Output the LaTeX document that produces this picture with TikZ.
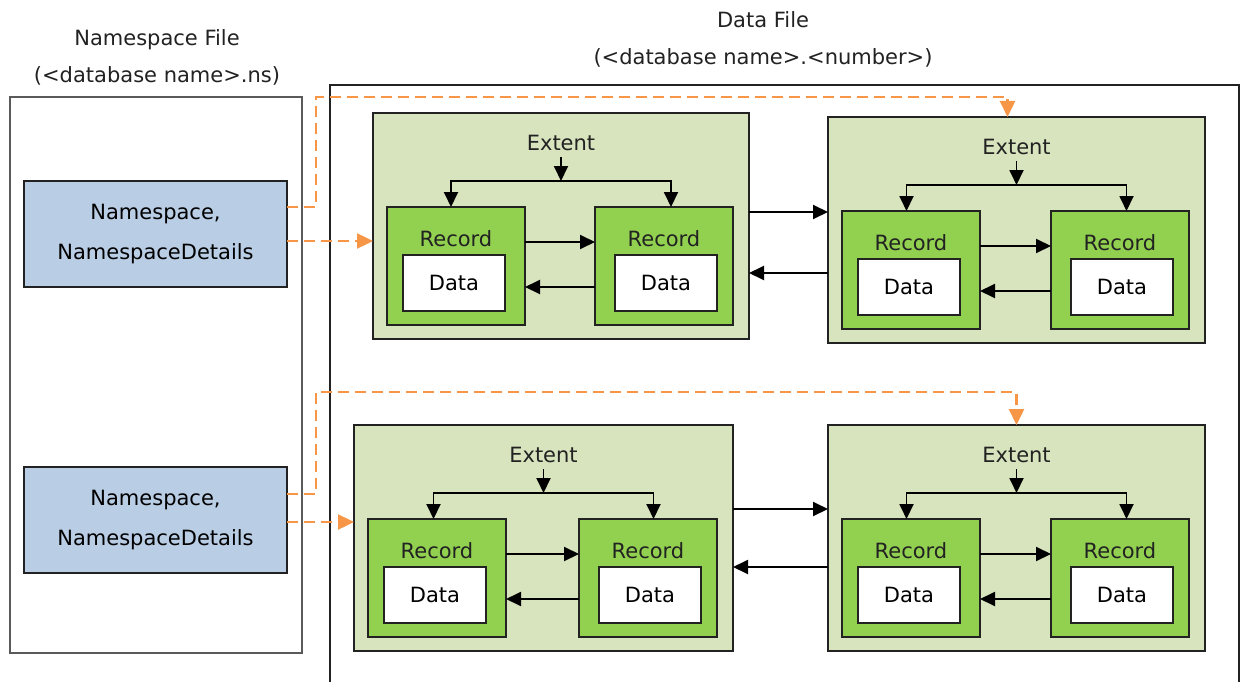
\documentclass[tikz,border=0pt]{standalone}
\usepackage{fontspec}
\setmainfont{DejaVu Sans}
\usetikzlibrary{arrows.meta}
\definecolor{extfill}{HTML}{D7E4BD}
\definecolor{recfill}{HTML}{92D050}
\definecolor{nsfill}{HTML}{B9CDE5}
\definecolor{orangeline}{HTML}{F79646}
\definecolor{framegray}{HTML}{5A5A5A}
\definecolor{edgeblack}{HTML}{222222}

\newcommand\extentgroup[4]{% #1 name, #2 left, #3 top, #4 width
  \node[extentbox, minimum width=#4pt] (#1) at ({#2+#4/2},{#3+113}) {};
  \node[txt] (#1lab) at ({#2+#4/2},{#3+37}) {Extent};
  \node[recbox] (#1A) at ({#2+83},{#3+153}) {};
  \node[recbox] (#1B) at ({#2+#4-85},{#3+153}) {};
  \node[txt] (#1Atxt) at ({#2+83},{#3+133}) {Record};
  \node[txt] (#1Btxt) at ({#2+#4-85},{#3+133}) {Record};
  \node[databox] (#1Ad) at ({#2+81},{#3+170}) {Data};
  \node[databox] (#1Bd) at ({#2+#4-83},{#3+170}) {Data};
  \coordinate (#1top) at ({#2+#4/2},{#3+44});
  \coordinate (#1bm) at ({#2+#4/2},{#3+68});
  \coordinate (#1bl) at ({#2+#4/2-110},{#3+68});
  \coordinate (#1br) at ({#2+#4/2+110},{#3+68});
  \draw[arr] (#1top) -- (#1bm);
  \draw[arr] (#1bm) -- (#1bl) -- (#1bl |- #1A.north);
  \draw[arr] (#1bm) -- (#1br) -- (#1br |- #1B.north);
  \coordinate (#1p) at (0,{#3+129});
  \coordinate (#1q) at (0,{#3+174});
  \draw[arr] (#1A.east |- #1p) -- (#1B.west |- #1p);
  \draw[arr] (#1B.west |- #1q) -- (#1A.east |- #1q);
}

\begin{document}
\begin{tikzpicture}[x=1pt,y=-1pt,
  font=\fontsize{21}{25}\selectfont,
  extentbox/.style={draw=edgeblack, line width=2pt, fill=extfill, minimum height=226pt, inner sep=0pt, outer sep=0pt},
  recbox/.style={draw=edgeblack, line width=2pt, fill=recfill, minimum width=138pt, minimum height=118pt, inner sep=0pt, outer sep=0pt},
  databox/.style={draw=edgeblack, line width=2pt, fill=white, minimum width=102pt, minimum height=56pt, inner sep=0pt, outer sep=0pt},
  nsbox/.style={draw=edgeblack, line width=2pt, fill=nsfill, minimum width=263pt, minimum height=106pt, inner sep=0pt, outer sep=0pt, align=center, font=\fontsize{21}{40}\selectfont},
  txt/.style={inner sep=0pt, anchor=base, text=edgeblack},
  arr/.style={draw=black, line width=1.9pt, -{Triangle[length=15pt,width=14pt]}},
  orangearr/.style={draw=orangeline, line width=2.4pt, dash pattern=on 11pt off 6pt, -{Triangle[length=16pt,width=15pt]}},
]
\useasboundingbox (0,0) rectangle (1241,682);
\fill[white] (0,0) rectangle (1241,682);

% titles
\node[txt] (nstitle1) at (157,46) {Namespace File};
\node[txt] (nstitle2) at (157,83) {(<database name>.ns)};
\node[txt] (dftitle1) at (763,28) {Data File};
\node[txt] (dftitle2) at (763,65) {(<database name>.<number>)};

% namespace file frame
\node[draw=framegray, line width=2.4pt, minimum width=292pt, minimum height=556pt, inner sep=0pt] (nsfile) at (156,375) {};
% data file frame (open at the bottom)
\draw[draw=edgeblack, line width=2pt] (330,682) -- (330,85) -- (1239,85) -- (1239,682);

% namespace boxes
\node[nsbox] (ns1) at (155.5,234) {Namespace,\\NamespaceDetails};
\node[nsbox] (ns2) at (155.5,520) {Namespace,\\NamespaceDetails};

% extents
\extentgroup{e1}{373}{113}{376}
\extentgroup{e2}{828}{117}{377}
\extentgroup{e3}{354}{425}{379}
\extentgroup{e4}{828}{425}{377}

% links between extents
\coordinate (h1) at (0,212);
\coordinate (h2) at (0,273);
\coordinate (h3) at (0,509);
\coordinate (h4) at (0,567);
\draw[arr] (e1.east |- h1) -- (e2.west |- h1);
\draw[arr] (e2.west |- h2) -- (e1.east |- h2);
\draw[arr] (e3.east |- h3) -- (e4.west |- h3);
\draw[arr] (e4.west |- h4) -- (e3.east |- h4);

% orange dashed links
\draw[orangearr] ([yshift=-26pt]ns1.north east) -- ++(29,0) -- ++(0,-110) -| ([xshift=-9pt]e2.north);
\draw[orangearr] ([yshift=-60pt]ns1.north east) coordinate (o2) -- (o2 -| e1.west);
\draw[orangearr] ([yshift=-27pt]ns2.north east) -- ++(29,0) -- ++(0,-102) -| (e4.north);
\draw[orangearr] ([yshift=-55pt]ns2.north east) coordinate (o4) -- (o4 -| e3.west);
\end{tikzpicture}
\end{document}
